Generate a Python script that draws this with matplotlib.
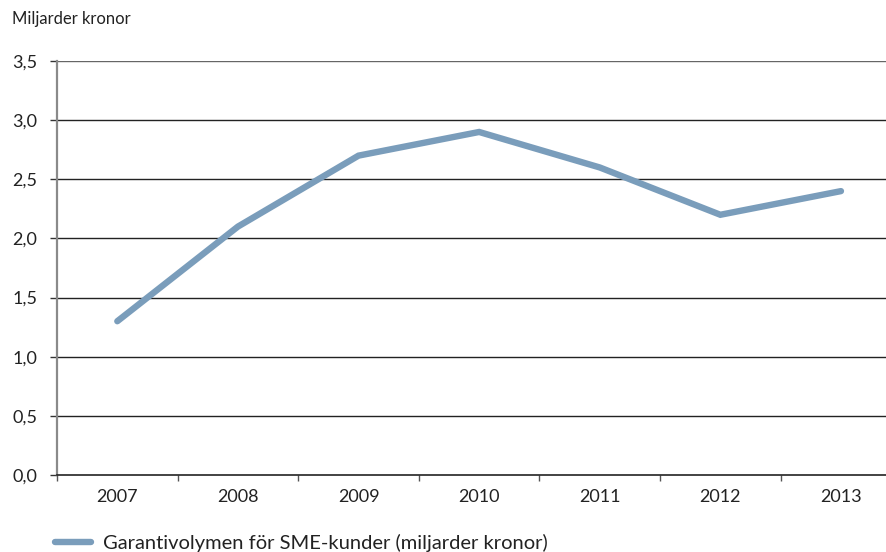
import matplotlib.pyplot as plt
from matplotlib.ticker import FixedLocator, FuncFormatter
import numpy as np

plt.rcParams['font.family'] = ['Lato', 'DejaVu Sans']

# Guarantee volume per year, SEK billions
years = ['2007', '2008', '2009', '2010', '2011', '2012', '2013']
volume = [1.3, 2.1, 2.7, 2.9, 2.6, 2.2, 2.4]
y_ticks = [0.0, 0.5, 1.0, 1.5, 2.0, 2.5, 3.0, 3.5]

line_color = '#7a9dbb'
W, H = 886, 552

fig = plt.figure(figsize=(W / 100, H / 100), dpi=100)
# axes placed in pixel terms: left spine at x=57, y from 61 to 475
ax = fig.add_axes([57 / W, 1 - 475 / H, (W - 57) / W, (475 - 61) / H])

x = np.arange(len(years))
ax.plot(x, volume, color=line_color, lw=4.6, solid_capstyle='round',
        solid_joinstyle='miter', zorder=3,
        label='Garantivolymen för SME-kunder (miljarder kronor)')

ax.set_ylim(0, 3.5)
ax.set_xlim(-0.5, (W - 118) / 120.5)

# horizontal grid lines
for v in y_ticks[1:]:
    ax.axhline(v, color='#222222' if v < 3.5 else '#666666', lw=1.0, zorder=1)

for s in ['top', 'right']:
    ax.spines[s].set_visible(False)
ax.spines['left'].set_color('#8a8a8a')
ax.spines['left'].set_linewidth(1.6)
ax.spines['bottom'].set_color('#222222')
ax.spines['bottom'].set_linewidth(1.2)

ax.set_yticks(y_ticks)
ax.yaxis.set_major_formatter(FuncFormatter(lambda v, p: f'{v:.1f}'.replace('.', ',')))
ax.tick_params(axis='y', length=5, width=1, color='#333333', labelsize=13,
               pad=9, labelcolor='#222222')

# category labels centred, ticks on the boundaries
ax.xaxis.set_major_locator(FixedLocator(x - 0.5))
ax.xaxis.set_major_formatter(FuncFormatter(lambda v, p: ''))
ax.set_xticks(x, years, minor=True)
ax.tick_params(axis='x', which='major', length=4, width=1, color='#555555')
ax.tick_params(axis='x', which='minor', length=0, labelsize=13, pad=10,
               labelcolor='#222222')

fig.text(12 / W, 1 - 19 / H, 'Miljarder kronor', fontsize=12, color='#222222',
         va='center', ha='left')

fig.legend(loc='center left', bbox_to_anchor=(47 / W, 1 - 543 / H), frameon=False,
           fontsize=14.5, handlelength=1.8, handletextpad=0.6, borderaxespad=0,
           labelcolor='#222222')

fig.savefig('out.png', dpi=100)
